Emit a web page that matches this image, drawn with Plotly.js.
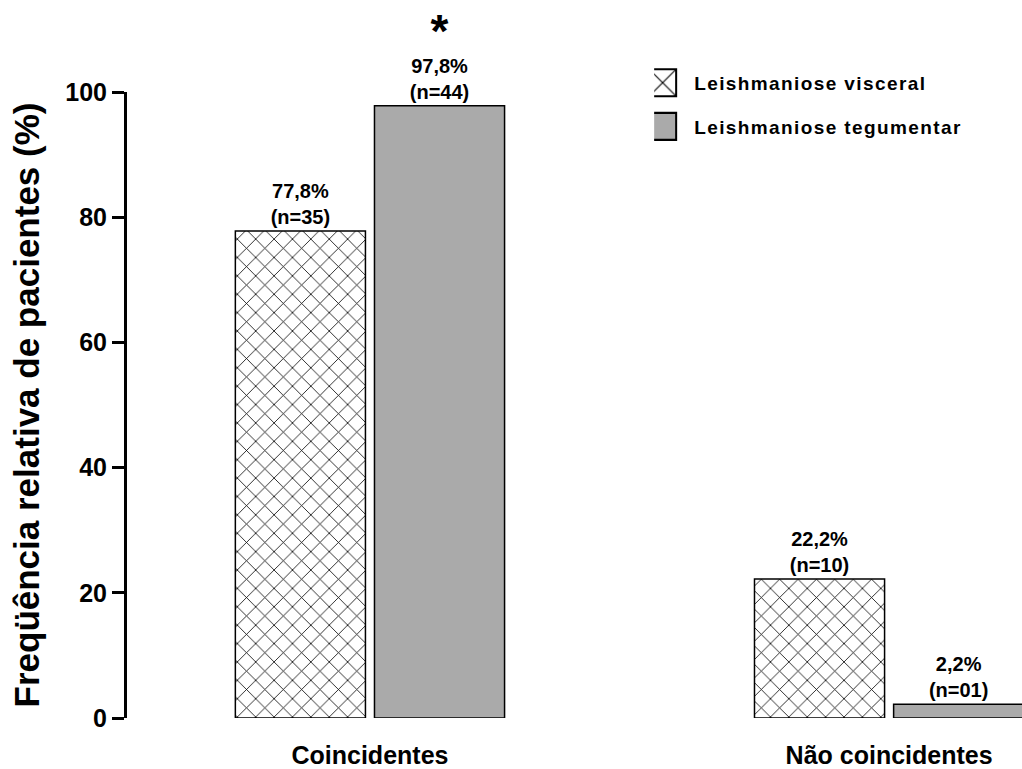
<!DOCTYPE html>
<html>
<head>
<meta charset="utf-8">
<script src="https://cdn.plot.ly/plotly-3.0.1.min.js"></script>
<style>
html,body{margin:0;padding:0;background:#fff;}
#chart{width:1022px;height:769px;}
#chart .legend .legendpoints path{transform:translate(8.5px,0px) scale(2.25) !important;stroke-width:0.9px !important;}
</style>
</head>
<body>
<div id="chart"></div>
<script>
const categories = ["Coincidentes", "Não coincidentes"];
const seriesNames = ["Leishmaniose visceral", "Leishmaniose tegumentar"];
const visceralValues = [77.8, 22.2];
const visceralCounts = ["35", "10"];
const tegumentarValues = [97.8, 2.2];
const tegumentarCounts = ["44", "01"];
const significance = ["*", ""];
const yTicks = [0, 20, 40, 60, 80, 100];

function fmt(v) { return v.toFixed(1).replace(".", ","); }
function labels(vals, counts, marks) {
  return vals.map((v, i) => {
    let s = fmt(v) + "%<br>(n=" + counts[i] + ")";
    if (marks && marks[i]) s = "<span style='font-size:46px'>" + marks[i] + "</span><br>" + s;
    return s;
  });
}
function spaced(name) { return "<span style='letter-spacing:1.4px'>" + name + "</span>"; }

const font = "Liberation Sans, Arial, sans-serif";

const traces = [
  {
    type: "bar", name: spaced(seriesNames[0]), x: categories, y: visceralValues,
    text: labels(visceralValues, visceralCounts), textposition: "outside",
    textfont: {family: font, size: 20, color: "#000", weight: "bold"},
    cliponaxis: false, legendgroup: "a",
    marker: {color: "#ffffff", line: {color: "#000", width: 1.5},
      pattern: {shape: "x", size: 13, solidity: 0.12, fgcolor: "#000", bgcolor: "#fff"}}
  },
  {
    type: "bar", name: spaced(seriesNames[1]), x: categories, y: tegumentarValues,
    text: labels(tegumentarValues, tegumentarCounts, significance), textposition: "outside",
    textfont: {family: font, size: 20, color: "#000", weight: "bold"},
    cliponaxis: false, legendgroup: "b",
    marker: {color: "#aaaaaa", line: {color: "#000", width: 1.5}}
  }
];

const layout = {
  width: 1022, height: 769,
  margin: {l: 127, r: 0, t: 92, b: 51},
  paper_bgcolor: "#fff", plot_bgcolor: "#fff",
  font: {family: font, color: "#000"},
  barmode: "group", bargap: 0.464, bargroupgap: 0.065,
  showlegend: true,
  legend: {x: 0.589, y: 1.045, xanchor: "left", yanchor: "top", traceorder: "grouped",
    tracegroupgap: 16, font: {family: font, size: 19, color: "#000", weight: "bold"},
    bgcolor: "rgba(0,0,0,0)"},
  xaxis: {
    type: "category", range: [-0.468, 1.256], showline: false, showgrid: false, zeroline: false,
    ticks: "", ticklabelstandoff: 20,
    tickfont: {family: font, size: 25, color: "#000", weight: "bold"}
  },
  yaxis: {
    range: [0, 100], tickvals: yTicks, showgrid: false, zeroline: false,
    showline: true, linecolor: "#000", linewidth: 3,
    ticks: "outside", ticklen: 12, tickwidth: 3, tickcolor: "#000",
    tickfont: {family: font, size: 25, color: "#000", weight: "bold"},
    title: {text: "Freqüência relativa de pacientes (%)", standoff: 16,
      font: {family: font, size: 35, color: "#000", weight: "bold"}}
  }
};

Plotly.newPlot("chart", traces, layout, {displayModeBar: false, staticPlot: true});
</script>
</body>
</html>
